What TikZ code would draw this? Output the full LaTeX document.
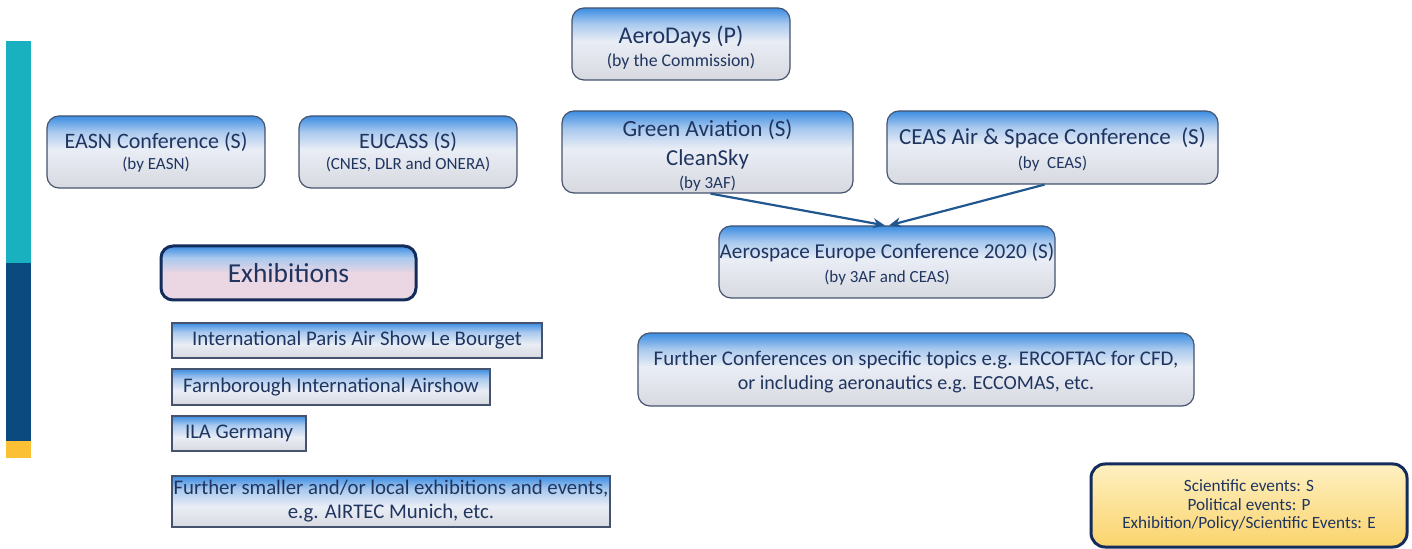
\documentclass[tikz,border=0pt]{standalone}
\usepackage{fontspec}
\setmainfont{Carlito}
\usetikzlibrary{arrows.meta}
\definecolor{txt}{HTML}{1F3560}
\definecolor{bord}{HTML}{45536F}
\definecolor{navy}{HTML}{142C5C}
\definecolor{bgBlue}{HTML}{3C8DE2}
\definecolor{bgMid}{HTML}{A9C9EE}
\definecolor{bgLight}{HTML}{E9EDF5}
\definecolor{bgGray}{HTML}{D8D9E0}
\definecolor{bgPink}{HTML}{EBD6E3}
\definecolor{arr}{HTML}{21578F}
\definecolor{barTeal}{HTML}{19B0C0}
\definecolor{barNavy}{HTML}{0B4A7E}
\definecolor{barYel}{HTML}{FBC033}
\definecolor{legTop}{HTML}{FFF0C2}
\definecolor{legBot}{HTML}{FAD46C}
\pgfdeclareverticalshading{bluegray}{100bp}{color(0bp)=(bgGray); color(25bp)=(bgGray); color(52bp)=(bgLight); color(64bp)=(bgMid); color(75bp)=(bgBlue); color(100bp)=(bgBlue)}
\pgfdeclareverticalshading{bluepink}{100bp}{color(0bp)=(bgPink); color(25bp)=(bgPink); color(50bp)=(bgPink); color(64bp)=(bgMid); color(75bp)=(bgBlue); color(100bp)=(bgBlue)}
\pgfdeclareverticalshading{bluegrayrect}{100bp}{color(0bp)=(bgGray); color(25bp)=(bgGray); color(45bp)=(bgLight); color(62bp)=(bgMid); color(75bp)=(bgBlue); color(100bp)=(bgBlue)}
\newcommand{\bigt}{\fontsize{11pt}{14pt}\selectfont}
\newcommand{\smallt}{\fontsize{8.5pt}{12pt}\selectfont}
\tikzset{
  rbox/.style={draw=bord, line width=0.6pt, rounded corners=6pt, shading=bluegray, text=txt, align=center, inner sep=0pt},
  ebox/.style={draw=bord, line width=0.6pt, shading=bluegrayrect, text=txt, align=center, inner sep=0pt, font=\fontsize{10.4pt}{12pt}\selectfont},
  conn/.style={draw=arr, line width=1.1pt, -{Stealth[length=6pt,width=5pt]}},
}
\begin{document}
\begin{tikzpicture}[x=0.5pt,y=-0.5pt]
\useasboundingbox (0,0) rectangle (1412,549);
% left bar
\fill[barTeal] (6,41) rectangle (31,263);
\fill[barNavy] (6,263) rectangle (31,441);
\fill[barYel] (6,441) rectangle (31,458);
% boxes
\node[rbox, minimum width=109pt, minimum height=36pt] (aero) at (681,44)
  {{\fontsize{12pt}{14pt}\selectfont\rule{0pt}{12.5pt}AeroDays (P)}\\[-0.5pt]{\fontsize{8.9pt}{12pt}\selectfont (by the Commission)}};
\node[rbox, minimum width=109pt, minimum height=36pt] (easn) at (156,152)
  {{\bigt EASN Conference (S)}\\[-1.5pt]{\smallt (by EASN)}};
\node[rbox, minimum width=109pt, minimum height=36pt] (eucass) at (408,152)
  {{\bigt EUCASS (S)}\\[-1.5pt]{\smallt (CNES, DLR and ONERA)}};
\node[rbox, minimum width=145.5pt, minimum height=41pt] (green) at (707.5,152)
  {{\fontsize{11.6pt}{14pt}\selectfont\rule{0pt}{12pt}Green Aviation (S)}\\[2.5pt]{\fontsize{11.4pt}{14pt}\selectfont CleanSky}\\[-0.5pt]{\smallt (by 3AF)}};
\node[rbox, minimum width=165.5pt, minimum height=36.5pt] (ceas) at (1052.5,147.5)
  {{\fontsize{11.5pt}{14pt}\selectfont\rule{0pt}{10.5pt}CEAS Air \& Space Conference~~(S)}\\[0pt]{\smallt (by~~CEAS)}};
\node[rbox, minimum width=168pt, minimum height=36pt] (aec) at (887,262)
  {{\fontsize{10.6pt}{13pt}\selectfont\rule{0pt}{10pt}Aerospace Europe Conference 2020 (S)}\\[0pt]{\smallt (by 3AF and CEAS)}};
\node[rbox, minimum width=278pt, minimum height=36.5pt] (further) at (916,369.5)
  {\fontsize{10.45pt}{14pt}\selectfont \rule{0pt}{10pt}Further Conferences on specific topics e.g. ERCOFTAC for CFD,\\or including aeronautics e.g. ECCOMAS, etc.};
% exhibitions
\node[draw=navy, line width=1.5pt, rounded corners=6pt, shading=bluepink, text=txt, inner sep=0pt,
  minimum width=127.5pt, minimum height=27pt, font=\fontsize{13.7pt}{15pt}\selectfont] (exh) at (288.5,273) {Exhibitions};
\node[ebox, minimum width=185pt, minimum height=17.5pt] (paris) at (357,340.5) {International Paris Air Show Le Bourget};
\node[ebox, minimum width=159pt, minimum height=18pt] (farn) at (331,387) {Farnborough International Airshow};
\node[ebox, minimum width=67pt, minimum height=17.5pt] (ila) at (239,433.5) {ILA Germany};
\node[ebox, minimum width=219pt, minimum height=25.5pt] (small) at (391,501.5) {Further smaller and/or local exhibitions and events,\\e.g. AIRTEC Munich, etc.};
% legend
\node[draw=navy, line width=1.5pt, rounded corners=7pt, top color=legTop, bottom color=legBot, text=txt, align=center, inner sep=0pt,
  minimum width=158pt, minimum height=41.5pt, font=\fontsize{8.6pt}{9.3pt}\selectfont] (legend) at (1249,505.5)
  {Scientific events: S\\Political events: P\\Exhibition/Policy/Scientific Events: E};
% connectors
\draw[conn] ([xshift=1.5pt]green.south) -- ([xshift=-1pt]aec.north);
\draw[conn] ([xshift=-4pt]ceas.south) -- ([xshift=1pt]aec.north);
\end{tikzpicture}
\end{document}
